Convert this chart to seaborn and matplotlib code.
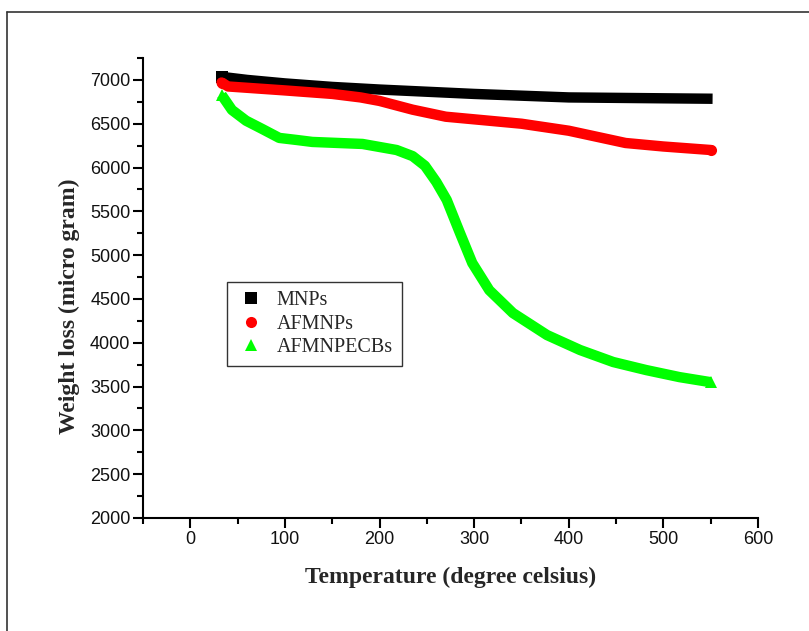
import numpy as np
import pandas as pd
import seaborn as sns
import matplotlib
matplotlib.use("Agg")
import matplotlib.pyplot as plt
from matplotlib.lines import Line2D
from matplotlib.ticker import MultipleLocator

# ---- data ----
mnp_T = [33, 60, 100, 150, 200, 250, 300, 350, 400, 450, 500, 552]
mnp_W = [7035, 7000, 6960, 6920, 6890, 6865, 6840, 6820, 6800, 6795, 6790, 6785]

afm_T = [33, 40, 100, 150, 180, 200, 235, 270, 300, 350, 400, 430, 460, 500, 550]
afm_W = [6970, 6925, 6880, 6840, 6800, 6760, 6660, 6580, 6550, 6500, 6420, 6350, 6280, 6240, 6200]

ecb_T = [33, 44, 59, 76, 94, 112, 129, 182, 218, 235, 248, 260, 271, 285, 298, 316, 341, 377, 412, 447, 482, 517, 550]
ecb_W = [6830, 6657, 6534, 6440, 6338, 6315, 6292, 6269, 6200, 6130, 6020, 5835, 5630, 5253, 4910, 4600, 4339, 4088, 3917, 3780, 3688, 3608, 3550]

series_names = ["MNPs", "AFMNPs", "AFMNPECBs"]
series_colors = ["#000000", "#ff0000", "#00ff00"]
series_markers = ["s", "o", "^"]

x_label = "Temperature (degree celsius)"
y_label = "Weight loss (micro gram)"

df = pd.concat([
    pd.DataFrame({"T": mnp_T, "W": mnp_W, "s": series_names[0]}),
    pd.DataFrame({"T": afm_T, "W": afm_W, "s": series_names[1]}),
    pd.DataFrame({"T": ecb_T, "W": ecb_W, "s": series_names[2]}),
])

sns.set_theme(style="white")
plt.rcParams["font.family"] = ["Liberation Sans", "DejaVu Sans"]

W_PX, H_PX = 809, 631
fig = plt.figure(figsize=(W_PX / 100, H_PX / 100), dpi=100)
L, R, T_, B = 143, 758, 58, 518
ax = fig.add_axes([L / W_PX, 1 - B / H_PX, (R - L) / W_PX, (B - T_) / H_PX])

caps = ["butt", "round", "butt"]
mevery = [[0], [0, -1], [0, -1]]
for name, col, mk, cap, me in zip(series_names, series_colors, series_markers, caps, mevery):
    sub = df[df["s"] == name]
    me = [i if i >= 0 else len(sub) - 1 for i in me]
    sns.lineplot(data=sub, x="T", y="W", ax=ax, color=col, linewidth=7.5,
                 marker=mk, markersize=8, markevery=me,
                 markeredgewidth=0, solid_capstyle=cap, solid_joinstyle="round",
                 sort=False, estimator=None, legend=False)

ax.set_xlim(-50, 600)
ax.set_ylim(2000, 7250)
ax.xaxis.set_major_locator(MultipleLocator(100))
ax.xaxis.set_minor_locator(MultipleLocator(50))
ax.yaxis.set_major_locator(MultipleLocator(500))
ax.yaxis.set_minor_locator(MultipleLocator(250))

for s in ["top", "right"]:
    ax.spines[s].set_visible(False)
for s in ["left", "bottom"]:
    ax.spines[s].set_color("black")
    ax.spines[s].set_linewidth(1.5)

ax.tick_params(axis="both", which="major", direction="out", length=7, width=1.5,
               colors="black", labelsize=13, pad=2, bottom=True, left=True)
ax.tick_params(axis="both", which="minor", direction="out", length=4, width=1.5,
               colors="black", bottom=True, left=True)
for lab in ax.get_xticklabels() + ax.get_yticklabels():
    lab.set_color("#111111")

ax.set_xlabel(x_label, fontfamily="Liberation Serif", fontweight="bold",
              fontsize=17, labelpad=14)
ax.set_ylabel(y_label, fontfamily="Liberation Serif", fontweight="bold",
              fontsize=17, labelpad=8)
ax.yaxis.set_label_coords(-0.102, 0.46)

handles = [Line2D([], [], linestyle="none", marker=m, color=c, markersize=8,
                  markeredgewidth=0) for m, c in zip(series_markers, series_colors)]
leg = ax.legend(handles, series_names, loc="upper left",
                bbox_to_anchor=((227 - L) / (R - L), (B - 282) / (B - T_)),
                borderaxespad=0, frameon=True, fancybox=False, shadow=False,
                prop={"family": "Liberation Serif", "size": 14.5},
                handlelength=1.5, handletextpad=0.5, labelspacing=0.22,
                borderpad=0.45)
leg.get_frame().set_edgecolor("#333333")
leg.get_frame().set_linewidth(1.0)
leg.get_frame().set_alpha(1)

# outer figure frame (partially cropped in the reference)
fig.add_artist(Line2D([7 / W_PX, 1.0], [1 - 12 / H_PX, 1 - 12 / H_PX],
                      transform=fig.transFigure, color="#333333", linewidth=1.2))
fig.add_artist(Line2D([7 / W_PX, 7 / W_PX], [0.0, 1 - 12 / H_PX],
                      transform=fig.transFigure, color="#333333", linewidth=1.2))

fig.savefig("out.png", dpi=100, facecolor="white")
